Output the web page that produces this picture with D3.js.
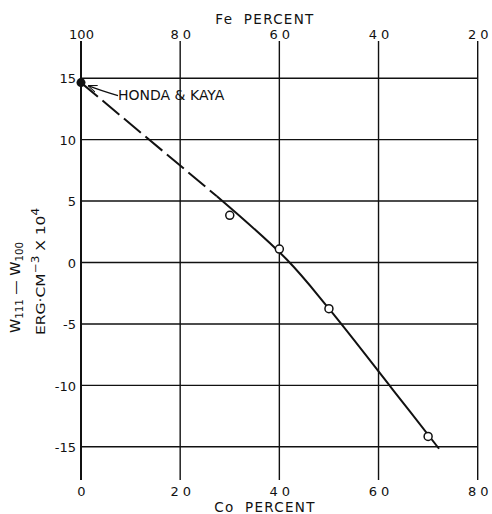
<!DOCTYPE html>
<html>
<head>
<meta charset="utf-8">
<script src="https://cdn.jsdelivr.net/npm/d3@7"></script>
<style>
  html, body { margin: 0; padding: 0; background: #fff; }
  svg { display: block; font-family: "DejaVu Sans", sans-serif; }
</style>
</head>
<body>
<svg id="chart" width="492" height="514"></svg>
<script>
// ---- data ----
const coTicks = [0, 20, 40, 60, 80];
const feTicks = [100, 80, 60, 40, 20];
const yTicks = [15, 10, 5, 0, -5, -10, -15];
const measuredCo = [30, 40, 50, 70];
const measuredW = [3.8, 1.05, -3.8, -14.2];
const hondaCo = [0];
const hondaW = [14.6];
const dashedCo = [0, 27.4];
const dashedW = [14.6, 5.35];
const solidCo = [27.4, 41.5, 50, 62.9, 72.2];
const solidW = [5.35, 0.2, -3.8, -10.4, -15.2];

// ---- layout ----
const mLeft = 81, mRight = 477.7, mTop = 77.7, mBottom = 446.3;
const svg = d3.select("#chart");
const x = d3.scaleLinear().domain([0, 80]).range([mLeft, mRight]);
const xFe = d3.scaleLinear().domain([100, 20]).range([mLeft, mRight]);
const y = d3.scaleLinear().domain([-15, 15]).range([mBottom, mTop]);
const ink = "#111";

// vertical grid lines (extend beyond the box as ticks)
svg.append("g").selectAll("line").data(coTicks).join("line")
  .attr("x1", d => x(d)).attr("x2", d => x(d))
  .attr("y1", 41).attr("y2", 480)
  .attr("stroke", ink).attr("stroke-width", d => d === 0 ? 2 : 1.4);

// left axis with horizontal grid lines
const gy = svg.append("g").attr("transform", `translate(${mLeft},0)`)
  .call(d3.axisLeft(y).tickValues(yTicks).tickSizeInner(-(mRight - mLeft)).tickSizeOuter(0).tickPadding(5)
    .tickFormat(d => d < 0 ? "-" + Math.abs(d) : d));
gy.select(".domain").remove();
gy.selectAll(".tick line").attr("stroke", ink).attr("stroke-width", 1.4);
gy.selectAll(".tick text").attr("fill", ink).attr("font-size", 13).attr("dy", "0.4em")
  .attr("font-family", "DejaVu Sans, sans-serif");

// bottom axis labels
const gx = svg.append("g").attr("transform", `translate(0,${mBottom})`)
  .call(d3.axisBottom(x).tickValues(coTicks).tickSize(0));
gx.select(".domain").remove();
gx.selectAll(".tick text").attr("fill", ink).attr("font-size", 13)
  .attr("font-family", "DejaVu Sans, sans-serif")
  .attr("letter-spacing", d => String(d).length === 2 ? 4 : 0)
  .attr("dx", d => String(d).length === 2 ? 2 : 0)
  .attr("y", 50).attr("dy", 0);

// top axis labels
const gt = svg.append("g").attr("transform", `translate(0,${mTop})`)
  .call(d3.axisTop(xFe).tickValues(feTicks).tickSize(0));
gt.select(".domain").remove();
gt.selectAll(".tick text").attr("fill", ink).attr("font-size", 13)
  .attr("font-family", "DejaVu Sans, sans-serif")
  .attr("letter-spacing", d => String(d).length === 2 ? 4 : 0)
  .attr("dx", d => String(d).length === 2 ? 2 : 0)
  .attr("y", -38.5).attr("dy", 0);

// axis titles
svg.append("text").attr("x", 265).attr("y", 24).attr("text-anchor", "middle")
  .attr("font-size", 13.5).attr("letter-spacing", 1.3).attr("word-spacing", 5).attr("fill", ink)
  .text("Fe PERCENT");
svg.append("text").attr("x", 265).attr("y", 512).attr("text-anchor", "middle")
  .attr("font-size", 13.5).attr("letter-spacing", 1.3).attr("word-spacing", 5).attr("fill", ink)
  .text("Co PERCENT");

// y label line 1
const l1 = svg.append("text").attr("transform", "translate(20,333) rotate(-90)")
  .attr("font-size", 14).attr("fill", ink)
  .attr("textLength", 91).attr("lengthAdjust", "spacingAndGlyphs");
l1.append("tspan").text("W");
l1.append("tspan").attr("font-size", 10).attr("dy", 3).text("111");
l1.append("tspan").attr("dy", -3).text(" \u2014 W");
l1.append("tspan").attr("font-size", 10).attr("dy", 3).text("100");

// y label line 2
const l2 = svg.append("text").attr("transform", "translate(45,335) rotate(-90)")
  .attr("font-size", 13).attr("fill", ink)
  .attr("textLength", 127).attr("lengthAdjust", "spacingAndGlyphs");
l2.append("tspan").text("ERG\u00B7CM");
l2.append("tspan").attr("font-size", 10).attr("dy", -6).text("\u22123");
l2.append("tspan").attr("dy", 6).text(" X 10");
l2.append("tspan").attr("font-size", 10).attr("dy", -6).text("4");

// curves
const dashLine = d3.line().x(d => x(d[0])).y(d => y(d[1]));
const solidLine = d3.line().x(d => x(d[0])).y(d => y(d[1])).curve(d3.curveCatmullRom.alpha(0.5));
svg.append("path").datum(d3.zip(dashedCo, dashedW)).attr("d", dashLine)
  .attr("fill", "none").attr("stroke", ink).attr("stroke-width", 2)
  .attr("stroke-dasharray", "22,6");
svg.append("path").datum(d3.zip(solidCo, solidW)).attr("d", solidLine)
  .attr("fill", "none").attr("stroke", ink).attr("stroke-width", 2);

// measured points (open circles)
svg.append("g").selectAll("circle").data(d3.zip(measuredCo, measuredW)).join("circle")
  .attr("cx", d => x(d[0])).attr("cy", d => y(d[1])).attr("r", 4)
  .attr("fill", "#fff").attr("stroke", ink).attr("stroke-width", 1.5);

// Honda & Kaya point
svg.append("g").selectAll("circle").data(d3.zip(hondaCo, hondaW)).join("circle")
  .attr("cx", d => x(d[0])).attr("cy", d => y(d[1])).attr("r", 4.5).attr("fill", ink);

// annotation
svg.append("defs").append("marker").attr("id", "arr")
  .attr("viewBox", "0 -5 10 10").attr("refX", 10).attr("refY", 0)
  .attr("markerWidth", 9).attr("markerHeight", 9).attr("markerUnits", "userSpaceOnUse")
  .attr("orient", "auto")
  .append("path").attr("d", "M0,-4 L10,0 L0,4").attr("fill", "none")
  .attr("stroke", ink).attr("stroke-width", 1.2);
const hx = x(hondaCo[0]), hy = y(hondaW[0]);
svg.append("path")
  .attr("d", `M${hx + 37},${hy + 13} Q${hx + 20},${hy + 8} ${hx + 7},${hy + 3}`)
  .attr("fill", "none").attr("stroke", ink).attr("stroke-width", 1.2)
  .attr("marker-end", "url(#arr)");
svg.append("text").attr("x", hx + 37).attr("y", hy + 17)
  .attr("font-size", 14).attr("fill", ink).text("HONDA & KAYA");
</script>
</body>
</html>
